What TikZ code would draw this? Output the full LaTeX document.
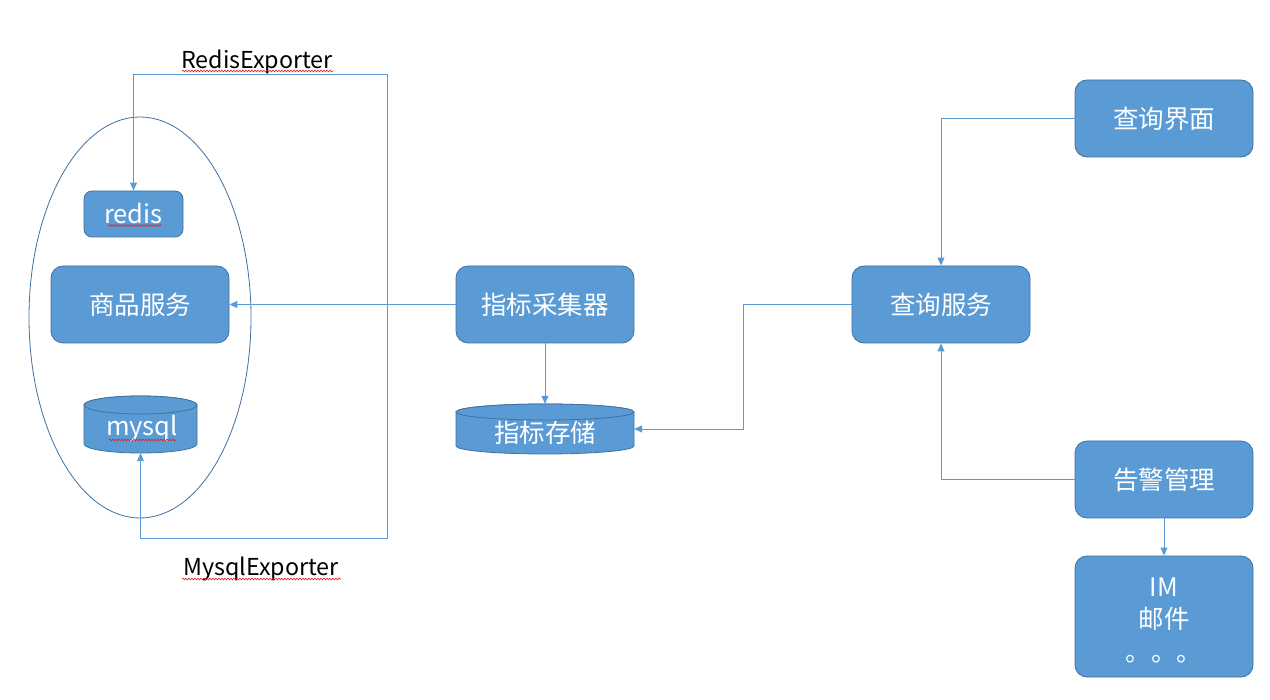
\documentclass[tikz,border=0pt]{standalone}
\usepackage{fontspec}
\setmainfont{Noto Sans CJK SC}
\usetikzlibrary{arrows.meta,shapes.geometric,decorations.pathmorphing}
\definecolor{boxfill}{HTML}{5B9BD5}
\definecolor{boxline}{HTML}{41719C}
\definecolor{connc}{HTML}{5B9BD5}
\definecolor{squig}{HTML}{E02020}
\begin{document}
\begin{tikzpicture}[x=1pt,y=-1pt,
  box/.style={draw=boxline, fill=boxfill, rounded corners=12pt, text=white,
    font=\fontsize{25.5}{30}\selectfont, line width=0.8pt, inner sep=0pt,
    minimum width=178pt, minimum height=77pt},
  cyltext/.style={text=white, font=\fontsize{25.5}{30}\selectfont, inner sep=0pt},
  cylshape/.style={draw=boxline, fill=boxfill, line width=0.8pt},
  conn/.style={draw=connc, line width=0.9pt, -{Triangle[length=8pt,width=7pt]}},
  lbl/.style={text=black, font=\fontsize{23.3}{27}\selectfont, inner sep=0pt},
  wavy/.style={draw=squig, line width=0.6pt, decorate, decoration={snake, amplitude=0.9pt, segment length=3pt}}]
\useasboundingbox (0,0) rectangle (1270,700);
\fill[white] (0,0) rectangle (1270,700);

% group ellipse
\node[ellipse, draw=boxline, line width=0.8pt, minimum width=222pt, minimum height=401pt, inner sep=0pt] (group) at (140,317.5) {};

% boxes
\node[box, minimum width=99pt, minimum height=46pt, rounded corners=8pt] (redis) at (133.5,214) {redis};
\node[box] (goods) at (140,304.5) {商品服务};
\node[box] (collector) at (545,304.5) {指标采集器};
\node[box] (query) at (941,304.5) {查询服务};
\node[box] (ui) at (1164,118.5) {查询界面};
\node[box] (alarm) at (1164,479.5) {告警管理};
\node[box, minimum height=121pt] (im) at (1164,616.5) {};
\node[cyltext, align=center, font=\fontsize{25.5}{32.5}\selectfont] (imtext) at (1164,620) {IM\\邮件\\。。。};

% mysql cylinder
\path[cylshape] (84,405) -- (84,444) arc[start angle=180,end angle=0,x radius=56.5,y radius=9]
  -- (197,405) arc[start angle=360,end angle=180,x radius=56.5,y radius=9] -- cycle;
\draw[cylshape] (140.5,405) ellipse [x radius=56.5, y radius=9];
\node[minimum width=113pt, minimum height=57pt, inner sep=0pt] (mysql) at (140.5,424.5) {};
\node[cyltext] (mysqltext) at (142,428) {mysql};

% storage cylinder
\path[cylshape] (456,412) -- (456,446) arc[start angle=180,end angle=0,x radius=89,y radius=8]
  -- (634,412) arc[start angle=360,end angle=180,x radius=89,y radius=8] -- cycle;
\draw[cylshape] (545,412) ellipse [x radius=89, y radius=8];
\node[minimum width=178pt, minimum height=50pt, inner sep=0pt] (store) at (545,429) {};
\node[cyltext] (storetext) at (545,433) {指标存储};

% labels
\node[lbl] (rlabel) at (257,61.5) {RedisExporter};
\node[lbl] (mlabel) at (261,569) {MysqlExporter};

% spell-check underlines
\draw[wavy] (182,71) -- (333,71);
\draw[wavy] (182,579) -- (341,579);
\draw[wavy] (108,225.5) -- (161,225.5);
\draw[wavy] (109,440) -- (176,440);

% connectors
\coordinate (junc) at (387,304.5);
\draw[conn] (collector.west) -- (goods.east);
\draw[conn] (junc) -- (387,74) -| (redis.north);
\draw[conn] (junc) -- (387,538) -| (mysql.south);
\draw[conn] (collector.south) -- (store.north);
\draw[conn] (query.west) -- (743,304.5) |- (store.east);
\draw[conn] (ui.west) -| (query.north);
\draw[conn] (alarm.west) -| (query.south);
\draw[conn] (alarm.south) -- (im.north);
\end{tikzpicture}
\end{document}
